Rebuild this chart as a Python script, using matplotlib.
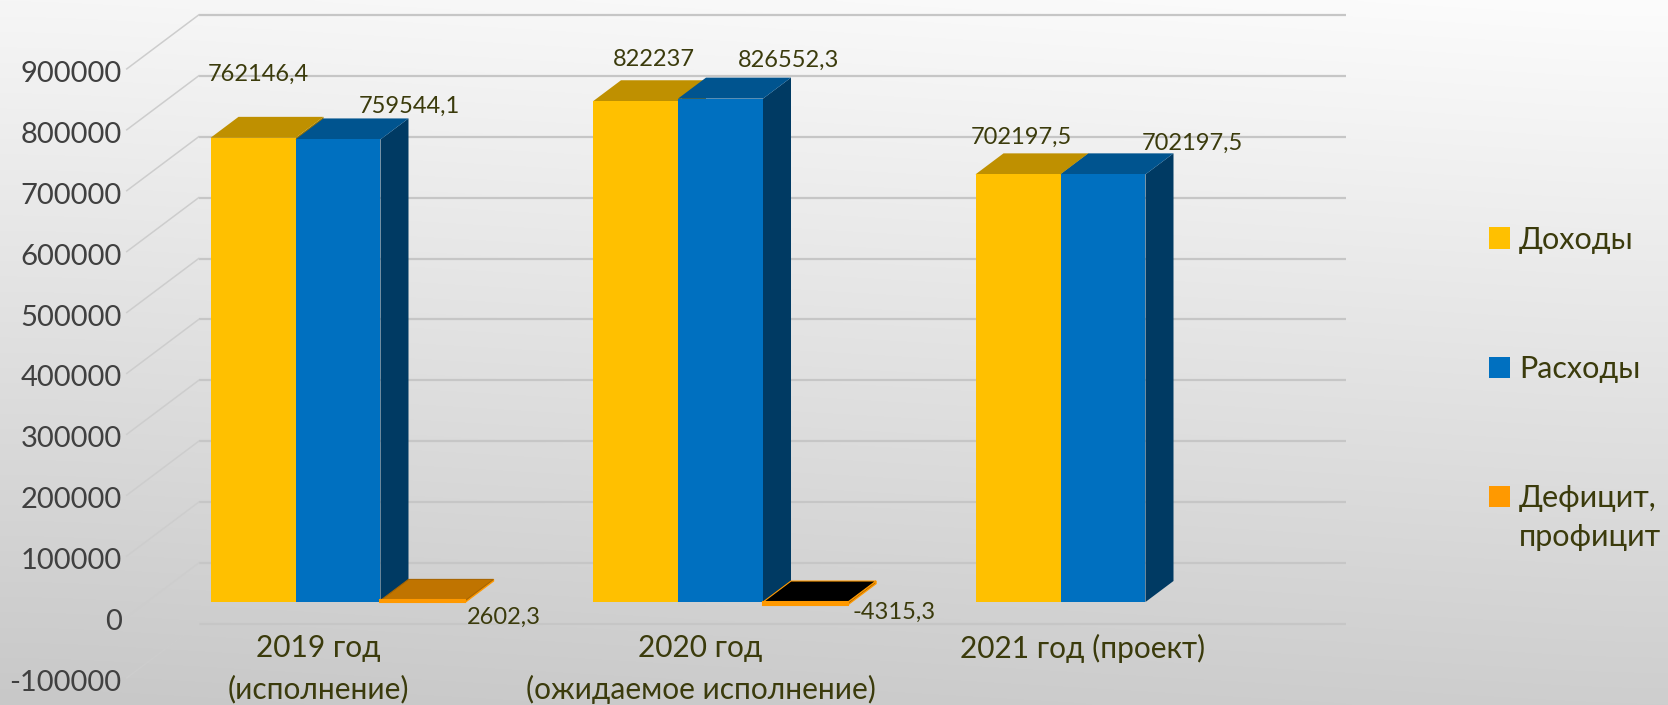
import numpy as np
import matplotlib
matplotlib.use('Agg')
import matplotlib.pyplot as plt
from matplotlib.patches import Polygon, Rectangle

plt.rcParams['font.family'] = ['Lato', 'DejaVu Sans']

# ---------------- data ----------------
categories = ['2019 год\n(исполнение)', '2020 год\n(ожидаемое исполнение)', '2021 год (проект)']
series_names = ['Доходы', 'Расходы', 'Дефицит,\nпрофицит']
income = [762146.4, 822237.0, 702197.5]
expenses = [759544.1, 826552.3, 702197.5]
balance = [2602.3, -4315.3, 0.0]
y_ticks = [-100000, 0, 100000, 200000, 300000, 400000, 500000, 600000, 700000, 800000, 900000]

# ---------------- style ----------------
front_colors = ['#FFC000', '#0070C0', '#FF9900']
top_colors = ['#BF9000', '#00548F', '#C07400']
side_colors = ['#9E7700', '#003A63', '#A05F00']
neg_top_color = '#000000'
txt_olive = '#3b3b0c'
tick_color = '#404040'

W, H = 1668, 705
X0, PXC = 338.0, 382.5        # px of category 0 centre, px per category
Y0, PXV = 602.0, 0.000609     # px (from top) of value 0 on bar fronts, px per unit
BAR_W = 0.2222
DEPTH, WALL_BACK, WALL_FRONT = 21.0, 39.0, -15.0
SLOPE = 4.0 / 3.0

# label offsets in px (dx right, dy up) relative to bar front-top centre
label_offsets = [[(5, 64), (71, 33), (80.5, -17)],
                 [(18.5, 42), (68, 38), (89, -10)],
                 [(3, 37), (89, 31), None]]

fig = plt.figure(figsize=(W / 100, H / 100), dpi=100)

# background gradient
bg = fig.add_axes([0, 0, 1, 1], zorder=-10)
grad = np.linspace(248, 202, 256)[:, None] * np.ones((1, 16))
horiz = np.linspace(-2, 4, 16)[None, :]
img = np.clip(grad + horiz, 0, 255) / 255.0
bg.imshow(np.dstack([img, img, img]), aspect='auto', extent=[0, 1, 0, 1], interpolation='bicubic')
bg.set_axis_off()

ax = fig.add_axes([0, 0, 1, 1])
ax.set_facecolor('none')
ax.set_xlim(-X0 / PXC, (W - X0) / PXC)
ax.set_ylim(-(H - Y0) / PXV, Y0 / PXV)
ax.set_axis_off()


def off(z):
    return z * SLOPE / PXC, z / PXV


def px(dx, dy):
    return dx / PXC, dy / PXV


def fmt(v):
    s = f'{v:.1f}'
    if s.endswith('.0'):
        s = s[:-2]
    return s.replace('.', ',')


# back wall gridlines and side diagonals
bx, by = off(WALL_BACK)
fx, fy = off(WALL_FRONT)
x_left, x_right = -0.5, len(categories) - 0.5
for v in y_ticks:
    ax.plot([x_left + bx, x_right + bx], [v + by, v + by], color='#c6c6c6', lw=1.6, zorder=1,
            solid_capstyle='butt')
    ax.plot([x_left + bx, x_left + fx], [v + by, v + fy], color='#cdcdcd', lw=1.1, zorder=1)
    tx, ty = px(-5, -5)
    ax.text(x_left + fx + tx, v + fy + ty, str(v), ha='right', va='center', fontsize=21,
            color=tick_color, zorder=6)

# category labels
for i, cat in enumerate(categories):
    for j, line in enumerate(cat.split('\n')):
        _, ly = px(0, -(31 + 41 * j))
        ax.text(i + fx, fy + ly, line, ha='center', va='center', fontsize=21.5,
                color=txt_olive, zorder=6)

# bars
series = [income, expenses, balance]
dx, dy = off(DEPTH)
n = 0
for i in range(len(categories)):
    for k, vals in enumerate(series):
        v = vals[i]
        if v == 0:
            continue
        xc = i + (k - 1) * BAR_W
        x0, x1 = xc - BAR_W / 2, xc + BAR_W / 2
        ytop, ybot = max(v, 0), min(v, 0)
        z = 3 + n * 0.1
        n += 1
        tcol = top_colors[k] if v > 0 else neg_top_color
        thin = abs(v) < 20000
        side = Polygon([(x1, ybot), (x1, ytop), (x1 + dx, ytop + dy), (x1 + dx, ybot + dy)],
                       closed=True, facecolor=side_colors[k],
                       edgecolor=front_colors[k] if thin else 'none', lw=1.0, zorder=z)
        top = Polygon([(x0, ytop), (x1, ytop), (x1 + dx, ytop + dy), (x0 + dx, ytop + dy)],
                      closed=True, facecolor=tcol,
                      edgecolor=('#a86500' if v > 0 else front_colors[k]) if thin else 'none',
                      lw=0.8, zorder=z + 0.01)
        ax.add_patch(side)
        ax.add_patch(top)
        ax.bar([xc], [v], width=BAR_W, color=front_colors[k],
               edgecolor=front_colors[k] if thin else 'none', lw=1.5 if thin else 0,
               zorder=z + 0.02)
        o = label_offsets[i][k]
        if o is not None:
            ox, oy = px(*o)
            ax.text(xc + ox, ytop + oy, fmt(v), ha='center', va='center', fontsize=17,
                    color=txt_olive, zorder=8)

# legend
for k, name in enumerate(series_names):
    yc = 238 + 129 * k
    fig.patches.append(Rectangle((1489 / W, 1 - (yc + 10.5) / H), 21 / W, 21 / H,
                                 transform=fig.transFigure, facecolor=front_colors[k],
                                 edgecolor='none', zorder=9))
    for j, line in enumerate(name.split('\n')):
        fig.text(1519 / W, 1 - (yc + 2 + 39 * j) / H, line, ha='left', va='center',
                 fontsize=22, color=txt_olive, zorder=9)

fig.savefig('out.png', dpi=100)
